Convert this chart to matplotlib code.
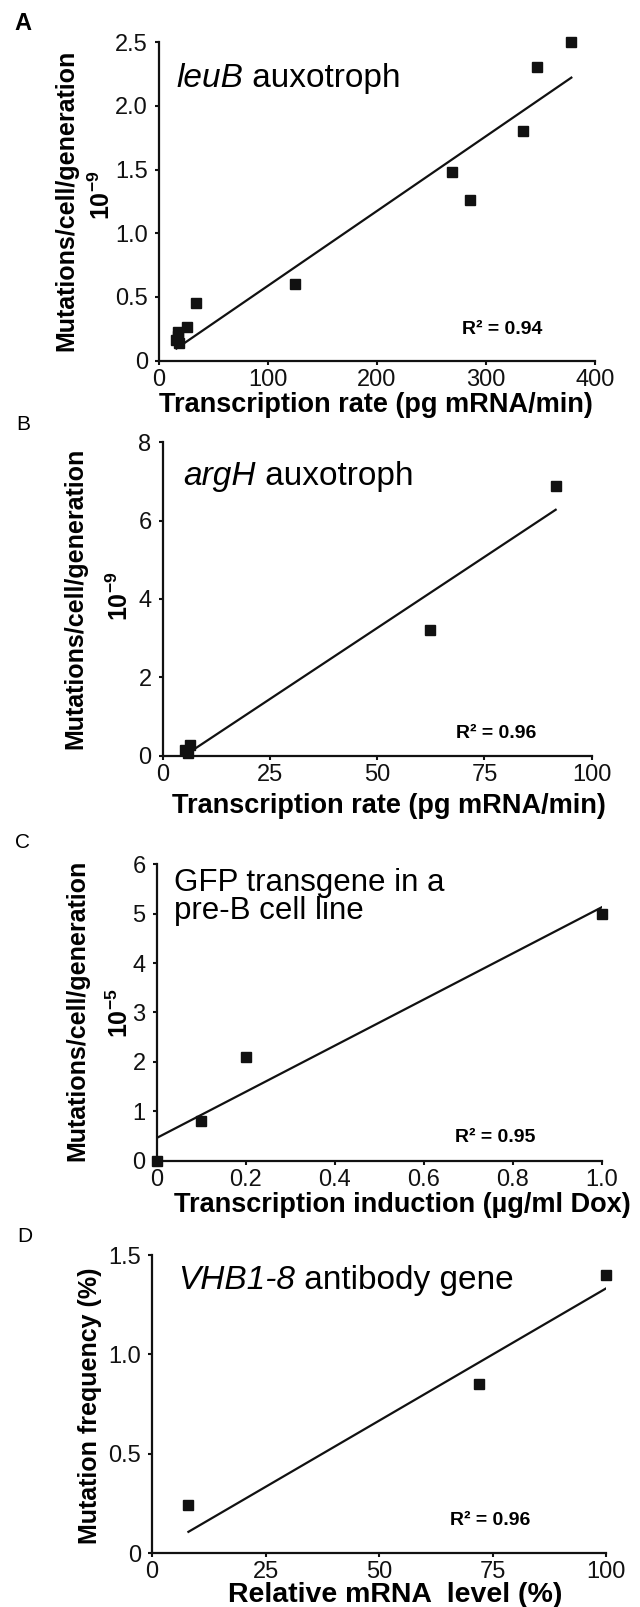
import matplotlib
matplotlib.use('Agg')
import matplotlib.pyplot as plt
import numpy as np

plt.rcParams['font.family'] = ['Liberation Sans', 'DejaVu Sans']
plt.rcParams['mathtext.fontset'] = 'custom'
plt.rcParams['mathtext.rm'] = 'Liberation Sans'
plt.rcParams['mathtext.it'] = 'Liberation Sans:italic'
plt.rcParams['mathtext.bf'] = 'Liberation Sans:bold'

# panel A - leuB
a_x = [378.3, 346.5, 334.3, 268.8, 285.3, 125.1, 33.6, 25.8, 17, 17, 16, 18]
a_y = [2.5, 2.306, 1.804, 1.478, 1.263, 0.601, 0.449, 0.263, 0.22, 0.19, 0.16, 0.14]
a_xticks = [0, 100, 200, 300, 400]
a_yticks = [0, 0.5, 1.0, 1.5, 2.0, 2.5]
a_yticklabels = ['0', '0.5', '1.0', '1.5', '2.0', '2.5']

# panel B - argH
b_x = [91.6, 62.2, 6.4, 5.2, 5.8]
b_y = [6.89, 3.21, 0.27, 0.13, 0.07]
b_xticks = [0, 25, 50, 75, 100]
b_yticks = [0, 2, 4, 6, 8]

# panel C - GFP transgene
c_x = [0, 0.1, 0.2, 1.0]
c_y = [0, 0.8, 2.1, 5.0]
c_xticks = [0, 0.2, 0.4, 0.6, 0.8, 1.0]
c_xticklabels = ['0', '0.2', '0.4', '0.6', '0.8', '1.0']
c_yticks = [0, 1, 2, 3, 4, 5, 6]

# panel D - VHB1-8
d_x = [8, 72, 100]
d_y = [0.24, 0.85, 1.4]
d_xticks = [0, 25, 50, 75, 100]
d_yticks = [0, 0.5, 1.0, 1.5]
d_yticklabels = ['0', '0.5', '1.0', '1.5']

r2_values = ['0.94', '0.96', '0.95', '0.96']

W, H = 640, 1607
fig = plt.figure(figsize=(W/100, H/100), dpi=100)

def px_text(x, y, s, **kw):
    return fig.text(x/W, 1 - y/H, s, **kw)

def title2(ax, x, y, ital, rest, size=24):
    # italic gene name followed by upright text
    t = px_text(x, y, ital, fontsize=size, style='italic', va='baseline')
    ax.annotate(rest, xy=(1, 0), xycoords=t, fontsize=size, va='bottom', ha='left')

def make_axes(l, t, r, b):
    ax = fig.add_axes([l/W, 1 - b/H, (r-l)/W, (b-t)/H])
    for s in ['top', 'right']:
        ax.spines[s].set_visible(False)
    for s in ['left', 'bottom']:
        ax.spines[s].set_linewidth(1.6)
        ax.spines[s].set_color('#111111')
    ax.tick_params(direction='out', length=3, width=1.5, labelsize=17, colors='#111111')
    ax.tick_params(axis='x', pad=3)
    ax.tick_params(axis='y', pad=5)
    return ax

def draw(ax, x, y, origin):
    x = np.array(x, float); y = np.array(y, float)
    if origin:
        k = np.sum(x*y)/np.sum(x*x); b = 0.0
    else:
        k, b = np.polyfit(x, y, 1)
    xs = np.array([x.min(), x.max()])
    ax.plot(xs, k*xs + b, color='#111111', lw=1.6, zorder=2)
    ax.plot(x, y, 's', color='#111111', ms=6.5, zorder=3, clip_on=False)

# A
ax1 = make_axes(159, 42.3, 595, 360.5)
draw(ax1, a_x, a_y, True)
ax1.set_xlim(0, 400); ax1.set_ylim(0, 2.5)
ax1.set_xticks(a_xticks)
ax1.set_yticks(a_yticks); ax1.set_yticklabels(a_yticklabels)

# B
ax2 = make_axes(162.7, 442.3, 591.7, 755.5)
draw(ax2, b_x, b_y, False)
ax2.set_xlim(0, 100); ax2.set_ylim(0, 8)
ax2.set_xticks(b_xticks); ax2.set_yticks(b_yticks)

# C
ax3 = make_axes(156.7, 864.3, 601.7, 1160.5)
draw(ax3, c_x, c_y, False)
ax3.set_xlim(0, 1.0); ax3.set_ylim(0, 6)
ax3.set_xticks(c_xticks); ax3.set_xticklabels(c_xticklabels)
ax3.set_yticks(c_yticks)

# D
ax4 = make_axes(152.1, 1255, 606.1, 1553)
draw(ax4, d_x, d_y, True)
ax4.set_xlim(0, 100); ax4.set_ylim(0, 1.5)
ax4.set_xticks(d_xticks)
ax4.set_yticks(d_yticks); ax4.set_yticklabels(d_yticklabels)

# panel letters
px_text(22.5, 23, 'A', fontsize=17, fontweight='bold', ha='center', va='center')
px_text(23.5, 425, 'B', fontsize=15, ha='center', va='center')
px_text(23, 842, 'C', fontsize=15, ha='center', va='center')
px_text(25, 1237, 'D', fontsize=15, ha='center', va='center')

# titles inside
title2(ax1, 176, 87, 'leuB', ' auxotroph')
title2(ax2, 183, 485, 'argH', ' auxotroph')
px_text(174, 891, 'GFP transgene in a', fontsize=22.5, va='baseline')
px_text(174, 919, 'pre-B cell line', fontsize=22.5, va='baseline')
title2(ax4, 178, 1289, 'VHB1-8', ' antibody gene')

# R2
for (x, y), r in zip([(462, 334), (456, 738), (455, 1142), (450, 1525)], r2_values):
    px_text(x, y, 'R² = ' + r, fontsize=14, fontweight='bold', va='baseline')

# y labels
ylab = 'Mutations/cell/generation'
px_text(66, 200, ylab, fontsize=18, fontweight='bold', rotation=90, ha='center', va='center')
px_text(102, 195, r'$\mathbf{10^{-9}}$', fontsize=18, rotation=90, ha='center', va='center')
px_text(75.5, 598, ylab, fontsize=18, fontweight='bold', rotation=90, ha='center', va='center')
px_text(120, 596, r'$\mathbf{10^{-9}}$', fontsize=18, rotation=90, ha='center', va='center')
px_text(77, 1010, ylab, fontsize=18, fontweight='bold', rotation=90, ha='center', va='center')
px_text(120, 1013, r'$\mathbf{10^{-5}}$', fontsize=18, rotation=90, ha='center', va='center')
px_text(90, 1406, 'Mutation frequency (%)', fontsize=18, fontweight='bold', rotation=90, ha='center', va='center')

# x labels
px_text(376, 405, 'Transcription rate (pg mRNA/min)', fontsize=19.5, fontweight='bold', ha='center', va='center')
px_text(389, 806, 'Transcription rate (pg mRNA/min)', fontsize=19.5, fontweight='bold', ha='center', va='center')
px_text(402, 1205, 'Transcription induction (µg/ml Dox)', fontsize=19.5, fontweight='bold', ha='center', va='center')
px_text(395, 1595, 'Relative mRNA  level (%)', fontsize=20.5, fontweight='bold', ha='center', va='center')

fig.savefig('out.png', dpi=100)
